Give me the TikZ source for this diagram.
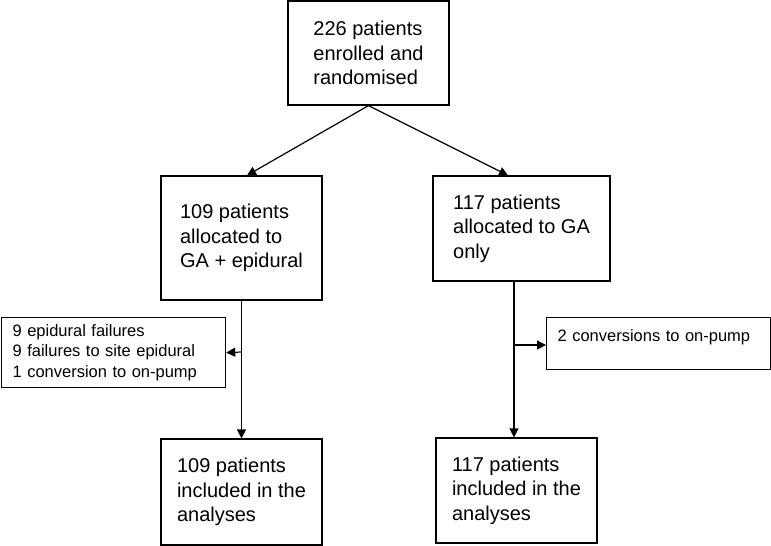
\documentclass[tikz,border=0pt]{standalone}
\usepackage{fontspec}
\setmainfont{Liberation Sans}
\usetikzlibrary{arrows.meta}
\usetikzlibrary{calc}

\begin{document}
\begin{tikzpicture}[x=1pt,y=-1pt,
	box/.style={draw,line width=1.2pt,align=left,inner sep=0pt,font=\fontsize{20}{24.5}\selectfont},
	sidebox/.style={draw,line width=1.2pt,align=left,anchor=north west,inner xsep=11pt,text width=202pt,font=\fontsize{16.5}{20.5}\selectfont},
	arr/.style={line width=1.2pt,-{Triangle[length=9pt,width=9pt]}}]
	\useasboundingbox (0,0) rectangle (771,546);
	\node[box,minimum width=161pt,minimum height=104pt] (top) at (368.5,53) {226 patients\\enrolled and\\randomised};
	\node[box,minimum width=161pt,minimum height=124pt] (lmid) at (241.5,238) {109 patients\\allocated to\\GA + epidural};
	\node[box,minimum width=177pt,minimum height=105pt] (rmid) at (521.5,228.5) {117 patients\\allocated to GA\\only};
	\node[box,minimum width=161pt,minimum height=106pt] (lbot) at (241.5,492) {109 patients\\included in the\\analyses};
	\node[box,minimum width=161pt,minimum height=105pt] (rbot) at (516.5,490.5) {117 patients\\included in the\\analyses};
	\node[sidebox,inner ysep=0pt,minimum height=70pt] (lside) at (1,317) {9 epidural failures\\9 failures to site epidural\\1 conversion to on-pump};
	\node[sidebox,inner ysep=10pt,text height=14pt,text depth=18pt] (rside) at (546,317) {2 conversions to on-pump};
	\coordinate (lsplit) at (241.5,352);
	\coordinate (rsplit) at (514,345);
	% from the top
	\draw[arr] (top.south) -- ($(lmid.north)+(5.5,0)$);
	\draw[arr] (top.south) -- ($(rmid.north)+(-13.5,0)$);
	% left arm
	\draw[arr] (lmid.south) -- (lbot.north);
	\draw[arr] (lsplit) -- (lside.east);
	% right arm
	\draw[arr] ($(rmid.south)+(-7.5,0)$) -- ($(rbot.north)+(-2.5,0)$);
	\draw[arr] (rsplit) -- (rsplit -| rside.west);
\end{tikzpicture}
\end{document}
